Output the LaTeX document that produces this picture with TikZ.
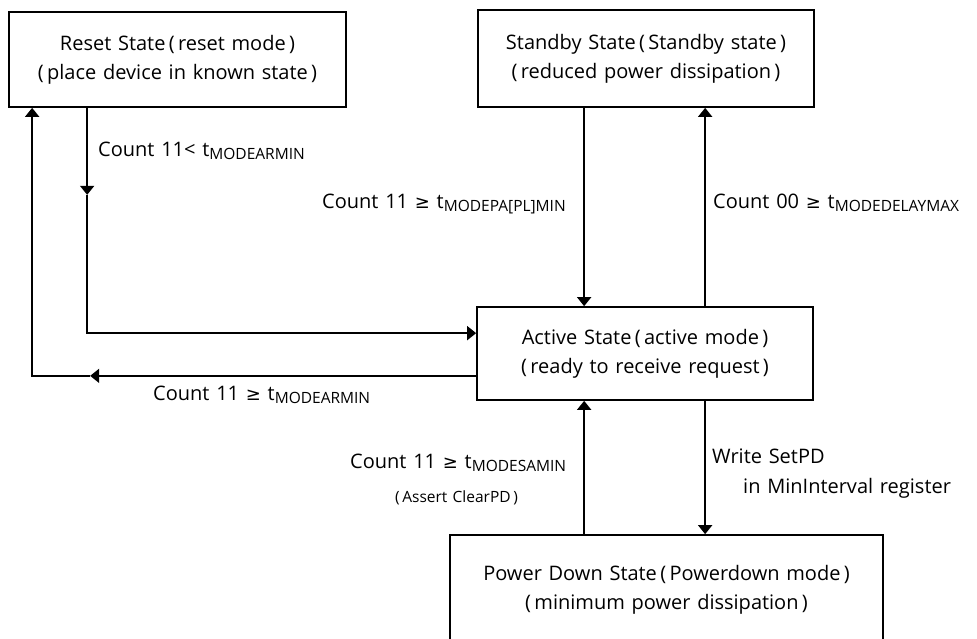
\documentclass[tikz,border=0pt]{standalone}
\usepackage{fontspec}
\setmainfont{Open Sans}[WordSpace=1.3]
\newfontfamily\symf{DejaVu Sans}
\usetikzlibrary{arrows.meta,calc}
\newcommand{\subt}[1]{t\raisebox{-3.5pt}{\fontsize{15.5}{16}\selectfont #1}}
\newcommand{\myge}{{\symf\fontsize{18}{18}\selectfont ≥}}
\begin{document}
\begin{tikzpicture}[x=1pt,y=-1pt,
  statebox/.style={draw,line width=1.7pt,inner sep=0pt,align=center,
    font=\fontsize{20}{29}\selectfont},
  conn/.style={line width=1.7pt},
  tip/.style={-{Triangle[width=14pt,length=9pt]}},
  lbl/.style={anchor=base west,inner sep=0pt,font=\fontsize{20}{22}\selectfont},
  small/.style={anchor=base west,inner sep=0pt,font=\fontsize{15.5}{16}\selectfont}]
\useasboundingbox (0,0) rectangle (977,638);

\node[statebox,minimum width=337pt,minimum height=95pt] (reset) at (177.5,59.5)
  {Reset State\,(\,reset mode\,)\\(\,place device in known state\,)};
\node[statebox,minimum width=336pt,minimum height=97pt] (standby) at (646,58.5)
  {Standby State\,(\,Standby state\,)\\(\,reduced power dissipation\,)};
\node[statebox,minimum width=336pt,minimum height=93pt] (active) at (645,353.5)
  {Active State\,(\,active mode\,)\\(\,ready to receive request\,)};
\node[statebox,minimum width=433pt,minimum height=110pt] (pd) at (666.5,590)
  {Power Down State\,(\,Powerdown mode\,)\\(\,minimum power dissipation\,)};

% Reset -> Active
\coordinate (rA) at ($(reset.south west)+(79,0)$);
\coordinate (rM) at ($(rA)+(0,87)$);
\coordinate (aIn) at ($(active.north west)+(0,27)$);
\draw[conn,tip] (rA) -- (rM);
\draw[conn,tip] (rM) -- (rM |- aIn) -- (aIn);

% Active -> Reset
\coordinate (aOut) at ($(active.south west)+(0,-25)$);
\coordinate (lM) at ($(aOut -| reset.west)+(82,0)$);
\coordinate (lC) at ($(reset.south west)+(24,0)$);
\draw[conn,tip] (aOut) -- (lM);
\draw[conn,tip] (lM) -- (lC |- aOut) -- (lC);

% Standby <-> Active
\coordinate (sD) at ($(standby.south west)+(107,0)$);
\draw[conn,tip] (sD) -- (sD |- active.north);
\coordinate (aU) at ($(active.north west)+(229,0)$);
\draw[conn,tip] (aU) -- (aU |- standby.south);

% Active <-> Power Down
\coordinate (pU) at ($(pd.north west)+(135,0)$);
\draw[conn,tip] (pU) -- (pU |- active.south);
\coordinate (aD) at ($(active.south west)+(229,0)$);
\draw[conn,tip] (aD) -- (aD |- pd.north);

% labels
\node[lbl] (l1) at (98,156) {Count 11< \subt{MODEARMIN}};
\node[lbl] (l2) at (322,208) {Count 11 \myge\ \subt{MODEPA[PL]MIN}};
\node[lbl] (l3) at (713,208) {Count 00 \myge\ \subt{MODEDELAYMAX}};
\node[lbl] (l4) at (153,400) {Count 11 \myge\ \subt{MODEARMIN}};
\node[lbl] (l5) at (350,468) {Count 11 \myge\ \subt{MODESAMIN}};
\node[small] (l6) at (395,502) {(\,Assert ClearPD\,)};
\node[lbl] (l7) at (712,463) {Write SetPD};
\node[lbl] (l8) at (743,493) {in MinInterval register};
\end{tikzpicture}
\end{document}
